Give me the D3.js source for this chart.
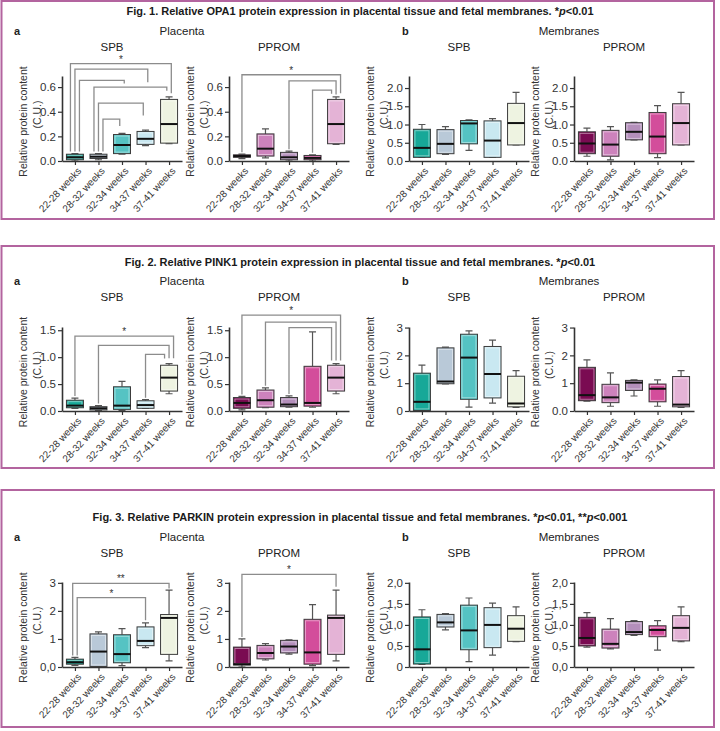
<!DOCTYPE html>
<html>
<head>
<meta charset="utf-8">
<script src="https://cdn.jsdelivr.net/npm/d3@7"></script>
<style>
  body { margin: 0; background: #fff; }
  svg { display: block; font-family: "Liberation Sans", Arial, sans-serif; }
</style>
</head>
<body>
<svg id="chart" width="720" height="731"></svg>
<script>
const groups = ["22-28 weeks", "28-32 weeks", "32-34 weeks", "34-37 weeks", "37-41 weeks"];
const spbColors = ["#17a898", "#b9c9d8", "#55c3c3", "#c9e8f1", "#eef3e1"];
const ppromColors = ["#7a0b52", "#cd82bc", "#b48fbb", "#d34d9b", "#e4b3d6"];

// box stats per group: [min, q1, median, q3, max]
const opa1PlacentaSpb = [[0.0, 0.01, 0.03, 0.055, 0.06], [0.01, 0.02, 0.035, 0.055, 0.06], [0.055, 0.06, 0.13, 0.215, 0.225], [0.125, 0.135, 0.18, 0.24, 0.25], [0.14, 0.145, 0.30, 0.50, 0.52]];
const opa1PlacentaPprom = [[0.02, 0.03, 0.04, 0.05, 0.055], [0.025, 0.04, 0.10, 0.22, 0.26], [0.0, 0.01, 0.03, 0.07, 0.08], [0.0, 0.01, 0.025, 0.045, 0.05], [0.135, 0.14, 0.30, 0.50, 0.52]];
const opa1MembranesSpb = [[0.1, 0.1, 0.36, 0.87, 1.0], [0.18, 0.2, 0.47, 0.86, 0.94], [0.29, 0.47, 1.03, 1.11, 1.13], [0.1, 0.1, 0.56, 1.1, 1.16], [0.44, 0.44, 1.04, 1.58, 1.88]];
const opa1MembranesPprom = [[0.13, 0.2, 0.48, 0.8, 0.9], [0.03, 0.13, 0.45, 0.84, 0.94], [0.58, 0.58, 0.8, 1.05, 1.06], [0.09, 0.2, 0.67, 1.33, 1.52], [0.44, 0.44, 1.04, 1.57, 1.88]];

const pink1PlacentaSpb = [[0.05, 0.06, 0.10, 0.20, 0.24], [0.01, 0.02, 0.05, 0.08, 0.1], [0.01, 0.03, 0.1, 0.45, 0.55], [0.05, 0.05, 0.11, 0.19, 0.21], [0.32, 0.37, 0.62, 0.85, 0.88]];
const pink1PlacentaPprom = [[0.02, 0.05, 0.15, 0.25, 0.27], [0.06, 0.07, 0.2, 0.39, 0.43], [0.07, 0.08, 0.12, 0.25, 0.28], [0.07, 0.09, 0.15, 0.83, 1.47], [0.32, 0.37, 0.62, 0.85, 0.88]];
const pink1MembranesSpb = [[0.0, 0.02, 0.33, 1.36, 1.65], [0.97, 0.98, 1.06, 2.27, 2.3], [0.14, 0.42, 1.92, 2.76, 2.88], [0.28, 0.47, 1.33, 2.32, 2.55], [0.13, 0.15, 0.27, 1.25, 1.45]];
const pink1MembranesPprom = [[0.35, 0.37, 0.57, 1.57, 1.84], [0.17, 0.3, 0.49, 0.96, 1.37], [0.54, 0.74, 1.02, 1.1, 1.12], [0.17, 0.33, 0.8, 0.97, 1.12], [0.13, 0.15, 0.23, 1.24, 1.45]];

const parkinPlacentaSpb = [[0.06, 0.1, 0.17, 0.28, 0.34], [0.0, 0.02, 0.55, 1.18, 1.25], [0.05, 0.15, 0.46, 1.15, 1.37], [0.69, 0.76, 0.93, 1.43, 1.57], [0.22, 0.45, 1.75, 1.87, 2.74]];
const parkinPlacentaPprom = [[0.0, 0.07, 0.1, 0.71, 1.0], [0.25, 0.29, 0.5, 0.77, 0.83], [0.46, 0.5, 0.73, 0.95, 0.97], [0.05, 0.1, 0.52, 1.7, 2.22], [0.22, 0.45, 1.75, 1.85, 2.74]];
const parkinMembranesSpb = [[0.06, 0.07, 0.42, 1.19, 1.36], [0.88, 0.95, 1.06, 1.25, 1.27], [0.13, 0.41, 0.87, 1.47, 1.64], [0.28, 0.46, 1.0, 1.41, 1.52], [0.6, 0.61, 0.91, 1.22, 1.43]];
const parkinMembranesPprom = [[0.47, 0.5, 0.69, 1.18, 1.29], [0.43, 0.45, 0.55, 0.9, 1.15], [0.75, 0.77, 0.83, 1.08, 1.1], [0.4, 0.72, 0.88, 0.98, 1.1], [0.6, 0.62, 0.93, 1.22, 1.43]];

// significance brackets: group indexes, bracket level, value where the right leg stops
const opa1PlacentaSpbSig = [
  { from: 0, to: 4, level: 0.79, end: 0.55, label: "*" },
  { from: 0, to: 3, level: 0.745, end: 0.64 },
  { from: 0, to: 2, level: 0.655, end: 0.63 },
  { from: 1, to: 4, level: 0.60, end: 0.57 },
  { from: 1, to: 3, level: 0.47, end: 0.37 },
  { from: 1, to: 2, level: 0.34, end: 0.285 }
];
const opa1PlacentaPpromSig = [
  { from: 0, to: 4, level: 0.70, end: 0.55, label: "*" },
  { from: 2, to: 4, level: 0.65, end: 0.54 },
  { from: 3, to: 4, level: 0.575, end: 0.545 }
];
const pink1PlacentaSpbSig = [
  { from: 0, to: 4, level: 1.39, end: 0.98, label: "*" },
  { from: 1, to: 4, level: 1.22, end: 0.98 },
  { from: 3, to: 4, level: 1.05, end: 0.975 }
];
const pink1PlacentaPpromSig = [
  { from: 0, to: 4, level: 1.78, end: 0.94, label: "*" },
  { from: 1, to: 4, level: 1.65, end: 0.94 },
  { from: 2, to: 4, level: 1.55, end: 0.94 }
];
const parkinPlacentaSpbSig = [
  { from: 0, to: 4, level: 2.98, end: 2.8, label: "**" },
  { from: 0, to: 3, level: 2.47, end: 1.67, label: "*" }
];
const parkinPlacentaPpromSig = [
  { from: 0, to: 4, level: 3.3, end: 2.86, label: "*" }
];

// y axis ticks
const opa1PlacentaTicks = [0, 0.2, 0.4, 0.6];
const opa1PlacentaTickLabels = ["0.0", "0.2", "0.4", "0.6"];
const opa1MembranesTicks = [0, 0.5, 1, 1.5, 2];
const opa1MembranesTickLabels = ["0.0", "0.5", "1.0", "1.5", "2.0"];
const pink1PlacentaTicks = [0, 0.5, 1, 1.5];
const pink1PlacentaTickLabels = ["0.0", "0.5", "1.0", "1.5"];
const pink1MembranesTicks = [0, 1, 2, 3];
const pink1MembranesSpbTickLabels = ["0", "1", "2", "3"];
const pink1MembranesPpromTickLabels = ["0.0", "1", "2", "3"];
const parkinPlacentaTicks = [0, 1, 2, 3];
const parkinPlacentaSpbTickLabels = ["0,0", "1", "2", "3"];
const parkinPlacentaPpromTickLabels = ["0", "1", "2", "3"];
const parkinMembranesTicks = [0, 0.5, 1, 1.5, 2];
const parkinMembranesSpbTickLabels = ["0", "0,5", "1,0", "1,5", "2,0"];
const parkinMembranesPpromTickLabels = ["0,0", "0,5", "1,0", "1,5", "2,0"];

const figures = [
  {
    title: "Fig. 1. Relative OPA1 protein expression in placental tissue and fetal membranes. ", note: "*p<0.01",
    frame: [1, 219], titleY: 14.5, headY: 35, subY: 51, axisTop: 76, axisBottom: 161,
    panels: [
      { stats: opa1PlacentaSpb, colors: spbColors, yMax: 0.69, ticks: opa1PlacentaTicks, labels: opa1PlacentaTickLabels, sig: opa1PlacentaSpbSig },
      { stats: opa1PlacentaPprom, colors: ppromColors, yMax: 0.69, ticks: opa1PlacentaTicks, labels: opa1PlacentaTickLabels, sig: opa1PlacentaPpromSig },
      { stats: opa1MembranesSpb, colors: spbColors, yMax: 2.33, ticks: opa1MembranesTicks, labels: opa1MembranesTickLabels, sig: [] },
      { stats: opa1MembranesPprom, colors: ppromColors, yMax: 2.33, ticks: opa1MembranesTicks, labels: opa1MembranesTickLabels, sig: [] }
    ]
  },
  {
    title: "Fig. 2. Relative PINK1 protein expression in placental tissue and fetal membranes. ", note: "*p<0.01",
    frame: [246, 468], titleY: 266, headY: 285, subY: 301, axisTop: 327, axisBottom: 411,
    panels: [
      { stats: pink1PlacentaSpb, colors: spbColors, yMax: 1.56, ticks: pink1PlacentaTicks, labels: pink1PlacentaTickLabels, sig: pink1PlacentaSpbSig },
      { stats: pink1PlacentaPprom, colors: ppromColors, yMax: 1.56, ticks: pink1PlacentaTicks, labels: pink1PlacentaTickLabels, sig: pink1PlacentaPpromSig },
      { stats: pink1MembranesSpb, colors: spbColors, yMax: 3.02, ticks: pink1MembranesTicks, labels: pink1MembranesSpbTickLabels, sig: [] },
      { stats: pink1MembranesPprom, colors: ppromColors, yMax: 3.02, ticks: pink1MembranesTicks, labels: pink1MembranesPpromTickLabels, sig: [] }
    ]
  },
  {
    title: "Fig. 3. Relative PARKIN protein expression in placental tissue and fetal membranes. ", note: "*p<0.01, **p<0.001",
    frame: [490, 727], titleY: 521, headY: 541, subY: 557, axisTop: 582, axisBottom: 667,
    panels: [
      { stats: parkinPlacentaSpb, colors: spbColors, yMax: 3.03, ticks: parkinPlacentaTicks, labels: parkinPlacentaSpbTickLabels, sig: parkinPlacentaSpbSig },
      { stats: parkinPlacentaPprom, colors: ppromColors, yMax: 3.03, ticks: parkinPlacentaTicks, labels: parkinPlacentaPpromTickLabels, sig: parkinPlacentaPpromSig },
      { stats: parkinMembranesSpb, colors: spbColors, yMax: 2.02, ticks: parkinMembranesTicks, labels: parkinMembranesSpbTickLabels, sig: [] },
      { stats: parkinMembranesPprom, colors: ppromColors, yMax: 2.02, ticks: parkinMembranesTicks, labels: parkinMembranesPpromTickLabels, sig: [] }
    ]
  }
];

const panelX = [62, 229, 409, 574];
const subtitles = ["SPB", "PPROM", "SPB", "PPROM"];
const plotW = 120;
const boxW = 17;
const capW = 7;

const svg = d3.select("#chart");

figures.forEach(fig => {
  const g = svg.append("g");

  g.append("rect")
    .attr("x", 1.5).attr("y", fig.frame[0])
    .attr("width", 712.5).attr("height", fig.frame[1] - fig.frame[0])
    .attr("fill", "none").attr("stroke", "#b3649f").attr("stroke-width", 2);

  // title with italic p
  const t = g.append("text")
    .attr("x", 360).attr("y", fig.titleY)
    .attr("text-anchor", "middle")
    .attr("font-weight", "bold").attr("font-size", 11).attr("fill", "#1a1a1a");
  t.append("tspan").text(fig.title);
  fig.note.split("p").forEach((part, i) => {
    if (i > 0) t.append("tspan").attr("font-style", "italic").text("p");
    t.append("tspan").text(part);
  });

  const head = (x, s, bold, anchor) => g.append("text")
    .attr("x", x).attr("y", fig.headY)
    .attr("text-anchor", anchor)
    .attr("font-size", bold ? 11 : 11.5)
    .attr("font-weight", bold ? "bold" : "normal")
    .attr("fill", "#222").text(s);
  head(14, "a", true, "start");
  head(182, "Placenta", false, "middle");
  head(402, "b", true, "start");
  head(569, "Membranes", false, "middle");

  fig.panels.forEach((p, pi) => drawPanel(g, fig, p, pi));
});

function drawPanel(g, fig, p, pi) {
  const x0 = panelX[pi];
  const pg = g.append("g").attr("transform", `translate(${x0},0)`);
  const x = d3.scalePoint().domain(groups).range([0, plotW]).padding(0.55);
  const y = d3.scaleLinear().domain([0, p.yMax]).range([fig.axisBottom, fig.axisTop]);

  pg.append("text")
    .attr("x", 50).attr("y", fig.subY)
    .attr("text-anchor", "middle").attr("font-size", 11.5).attr("fill", "#222")
    .text(subtitles[pi]);

  // y axis title
  const midY = (fig.axisTop + fig.axisBottom) / 2;
  [["Relative protein content", -35, 3], ["(C.U.)", -21, -4]].forEach(([s, dx, dy]) => {
    pg.append("text")
      .attr("transform", `translate(${dx},${midY + dy}) rotate(-90)`)
      .attr("text-anchor", "middle").attr("font-size", 10.5).attr("fill", "#333")
      .text(s);
  });

  // significance brackets
  const legs = groups.map(() => []);
  p.sig.forEach(b => {
    legs[b.from].push({ b, side: "L" });
    legs[b.to].push({ b, side: "R" });
  });
  const offset = new Map();
  legs.forEach(list => {
    list.sort((a, c) => {
      if (a.side !== c.side) return a.side === "L" ? -1 : 1;
      return a.side === "L" ? c.b.level - a.b.level : a.b.level - c.b.level;
    });
    list.forEach((l, i) => offset.set(l.b.level + l.side, (i - (list.length - 1) / 2) * 4.5));
  });
  p.sig.forEach(b => {
    const xl = x(groups[b.from]) + offset.get(b.level + "L");
    const xr = x(groups[b.to]) + offset.get(b.level + "R");
    const yl = y(p.stats[b.from][4]) - 2;
    const yb = y(b.level);
    pg.append("path")
      .attr("d", `M${xl},${yl}V${yb}H${xr}V${y(b.end)}`)
      .attr("fill", "none").attr("stroke", "#8c8c8c").attr("stroke-width", 1.3);
    if (b.label) {
      pg.append("text")
        .attr("x", (xl + xr) / 2).attr("y", yb - 1)
        .attr("text-anchor", "middle").attr("font-size", 10).attr("fill", "#333")
        .text(b.label);
    }
  });

  // boxes
  const box = pg.selectAll("g.box").data(p.stats).join("g").attr("class", "box")
    .attr("transform", (d, i) => `translate(${x(groups[i])},0)`);
  box.append("path")
    .attr("d", d => `M0,${y(d[0])}V${y(d[1])}M0,${y(d[3])}V${y(d[4])}M${-capW / 2},${y(d[0])}H${capW / 2}M${-capW / 2},${y(d[4])}H${capW / 2}`)
    .attr("stroke", "#555").attr("stroke-width", 1.2);
  box.append("rect")
    .attr("x", -boxW / 2).attr("width", boxW)
    .attr("y", d => y(d[3])).attr("height", d => Math.max(0.5, y(d[1]) - y(d[3])))
    .attr("fill", (d, i) => p.colors[i]).attr("stroke", "#3c3c3c").attr("stroke-width", 1);
  box.append("rect")
    .attr("x", -boxW / 2 + 1.5).attr("width", boxW - 3)
    .attr("y", d => y(d[3]) + 1.5).attr("height", d => Math.max(0, y(d[1]) - y(d[3]) - 3))
    .attr("fill", "none").attr("stroke", "#fff").attr("stroke-opacity", 0.55).attr("stroke-width", 0.8);
  box.append("line")
    .attr("x1", -boxW / 2).attr("x2", boxW / 2)
    .attr("y1", d => y(d[2])).attr("y2", d => y(d[2]))
    .attr("stroke", "#111").attr("stroke-width", 2);

  // axes
  const ya = pg.append("g")
    .call(d3.axisLeft(y).tickValues(p.ticks).tickFormat((d, i) => p.labels[i]).tickSize(4).tickSizeOuter(0));
  const xa = pg.append("g").attr("transform", `translate(0,${fig.axisBottom})`)
    .call(d3.axisBottom(x).tickSize(4).tickSizeOuter(0));
  [ya, xa].forEach(a => {
    a.select(".domain").attr("stroke", "#333").attr("stroke-width", 1.6);
    a.selectAll(".tick line").attr("stroke", "#333").attr("stroke-width", 1.2);
    a.selectAll("text").attr("fill", "#333").attr("font-family", null);
  });
  ya.selectAll("text").attr("font-size", 11.5).attr("x", -6);
  xa.selectAll("text")
    .attr("font-size", 10).attr("text-anchor", "end")
    .attr("x", 0).attr("y", 0).attr("dy", "0.35em")
    .attr("transform", "translate(4,8) rotate(-47)");
}
</script>
</body>
</html>
